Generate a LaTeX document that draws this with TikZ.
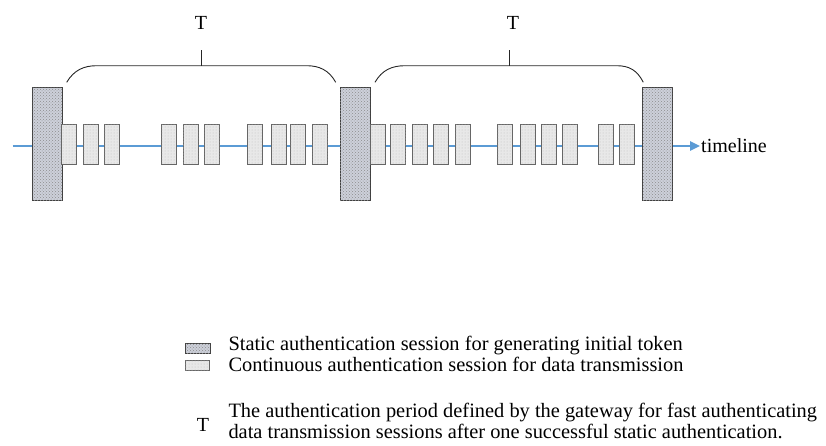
\documentclass[tikz,border=0pt]{standalone}
\usepackage{fontspec}
\setmainfont{Liberation Serif}
\usetikzlibrary{arrows.meta,patterns}

\definecolor{tlblue}{RGB}{91,155,213}
\definecolor{statfill}{RGB}{205,208,218}
\definecolor{contfill}{RGB}{232,232,232}

\tikzset{
  statbox/.style={draw=black!75, line width=1pt, fill=statfill,
    postaction={pattern=crosshatch dots, pattern color=black!45},
    minimum width=30, minimum height=113.3, inner sep=0pt},
  contbox/.style={draw=black!60, line width=1pt, fill=contfill,
    postaction={pattern=dots, pattern color=black!25},
    minimum width=15, minimum height=40, inner sep=0pt},
  brace/.style={line width=0.9pt, black!85},
}

\begin{document}
\begin{tikzpicture}[x=1pt, y=-1pt]
        \useasboundingbox (0, 0) rectangle (826, 445);
        % timeline
        \coordinate (tlstart) at (12.7, 146);
        \node[anchor=west, inner sep=1pt, font=\fontsize{20}{22}\selectfont] (tlabel) at (700, 146) {timeline};
        \draw[tlblue, line width=2.4pt, -{Triangle[length=10pt, width=9pt]}] (tlstart) -- (tlabel.west);
        % static authentication sessions
        \node[statbox] (s1) at (47.3, 144.3) {};
        \node[statbox] (s2) at (355.2, 144.3) {};
        \node[statbox] (s3) at (657.3, 144.3) {};
        % continuous authentication sessions
        \foreach \x [count=\i] in {61.7, 83, 104.3, 161.7, 183, 204.3, 247.7, 271, 290.3, 312.3,
                                   370, 390.7, 412.3, 433.7, 455, 497.7, 520.3, 541, 562.3, 598.3, 619.7}
            \node[contbox] (c\i) at (\x + 7.5, 144.3) {};
        % periods T
        \draw[brace] (66.7, 82.3) .. controls (74, 70) and (84, 65.7) .. (96.7, 65.7) -- (306.7, 65.7)
                     .. controls (319, 65.7) and (329, 70) .. (335.7, 82.3);
        \draw[brace] (201, 65.7) -- (201, 50);
        \node[font=\fontsize{20}{22}\selectfont] (t1) at (201, 23) {T};
        \draw[brace] (375, 82.3) .. controls (382, 70) and (392, 65.7) .. (405, 65.7) -- (616.7, 65.7)
                     .. controls (629, 65.7) and (637, 70) .. (643.3, 82.3);
        \draw[brace] (509, 65.7) -- (509, 50);
        \node[font=\fontsize{20}{22}\selectfont] (t2) at (513, 23) {T};
        % legend
        \node[statbox, minimum width=25, minimum height=10] (ls) at (197.6, 348.3) {};
        \node[contbox, minimum width=24, minimum height=10] (lc) at (197, 365.8) {};
        \node[font=\fontsize{20}{22}\selectfont] (lt) at (203, 425) {T};
        \begin{scope}[every node/.style={anchor=base west, inner sep=0pt, font=\fontsize{20.4}{22}\selectfont}]
            \node (ls text) at (228.3, 350.5) {Static authentication session for generating initial token};
            \node (lc text) at (228.3, 371) {Continuous authentication session for data transmission};
            \node (lt text1) at (228.3, 417.5) {The authentication period defined by the gateway for fast authenticating};
            \node (lt text2) at (228.3, 438) {data transmission sessions after one successful static authentication.};
        \end{scope}
    \end{tikzpicture}
\end{document}
